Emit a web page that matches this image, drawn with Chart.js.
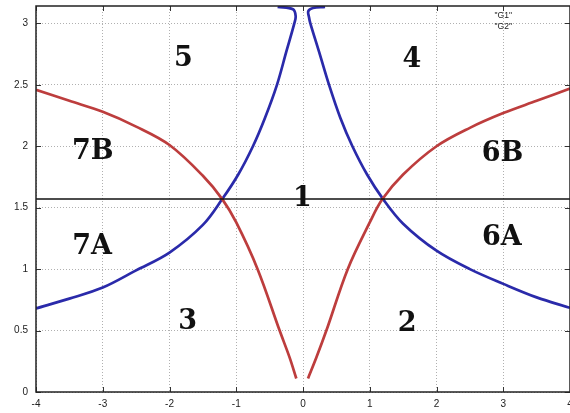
<!DOCTYPE html>
<html>
<head>
<meta charset="utf-8">
<script src="https://cdn.jsdelivr.net/npm/chart.js@4.4.1/dist/chart.umd.min.js"></script>
<style>
  html, body { margin: 0; padding: 0; background: #fff; overflow: hidden; }
  #wrap { width: 574px; height: 413px; position: relative; }
</style>
</head>
<body>
<div id="wrap"><canvas id="c" width="574" height="413"></canvas></div>
<script>
// ---- data ----
const redLeftX  = [-4.0, -3.5, -3.0, -2.5, -2.0, -1.5, -1.21, -1.0, -0.68, -0.35, -0.2, -0.10];
const redLeftY  = [2.46, 2.37, 2.28, 2.16, 2.01, 1.76, 1.57, 1.38, 1.00, 0.50, 0.28, 0.11];
const redRightX = [0.075, 0.2, 0.35, 0.67, 1.0, 1.19, 1.5, 2.0, 2.5, 3.0, 3.5, 4.0];
const redRightY = [0.11, 0.28, 0.50, 1.00, 1.38, 1.57, 1.77, 2.00, 2.15, 2.27, 2.37, 2.47];
const blueLeftX = [-4.0, -3.5, -3.0, -2.5, -2.0, -1.5, -1.21, -0.97, -0.75, -0.57, -0.39, -0.25, -0.13, -0.11, -0.15, -0.38];
const blueLeftY = [0.68, 0.76, 0.85, 0.99, 1.135, 1.36, 1.57, 1.77, 2.00, 2.23, 2.50, 2.77, 3.00, 3.06, 3.115, 3.135];
const blueRightX = [0.33, 0.15, 0.08, 0.09, 0.11, 0.24, 0.39, 0.56, 0.74, 0.96, 1.2, 1.5, 2.0, 2.5, 3.0, 3.5, 4.0];
const blueRightY = [3.135, 3.125, 3.10, 3.05, 3.00, 2.77, 2.50, 2.23, 2.00, 1.77, 1.57, 1.37, 1.15, 1.00, 0.88, 0.77, 0.685];
const boundaryX = [-4, 4];
const boundaryY = [1.5708, 1.5708];
const xTicks = [-4, -3, -2, -1, 0, 1, 2, 3, 4];
const yTicks = [0, 0.5, 1, 1.5, 2, 2.5, 3];
const regionNames = ["5", "4", "7B", "6B", "1", "7A", "6A", "3", "2"];
const regionX = [-1.79, 1.63, -3.15, 2.99, -0.01, -3.16, 2.98, -1.73, 1.56];
const regionY = [2.71, 2.70, 1.95, 1.94, 1.57, 1.18, 1.25, 0.57, 0.55];
const legendNames = ['"G1"', '"G2"'];

function pts(xs, ys) { return xs.map((x, i) => ({ x: x, y: ys[i] })); }

const RED = '#bd3d3d';
const BLUE = '#2a2aaa';

const overlay = {
  id: 'overlay',
  afterDatasetsDraw(chart) {
    const ctx = chart.ctx;
    const xs = chart.scales.x, ys = chart.scales.y;
    const a = chart.chartArea;
    ctx.save();
    // inward tick marks
    ctx.strokeStyle = '#333';
    ctx.lineWidth = 1;
    ctx.beginPath();
    yTicks.forEach(v => {
      const p = Math.round(ys.getPixelForValue(v)) + 0.5;
      ctx.moveTo(a.left, p); ctx.lineTo(a.left + 5, p);
      ctx.moveTo(a.right, p); ctx.lineTo(a.right - 5, p);
    });
    xTicks.forEach(v => {
      const p = Math.round(xs.getPixelForValue(v)) + 0.5;
      ctx.moveTo(p, a.bottom); ctx.lineTo(p, a.bottom - 5);
      ctx.moveTo(p, a.top); ctx.lineTo(p, a.top + 5);
    });
    ctx.stroke();
    // frame
    ctx.strokeStyle = '#222';
    ctx.lineWidth = 1.5;
    ctx.strokeRect(a.left, a.top, a.right - a.left, a.bottom - a.top);
    // region labels
    ctx.fillStyle = '#111';
    ctx.font = 'bold 27px "DejaVu Serif"';
    ctx.textAlign = 'center';
    ctx.textBaseline = 'middle';
    regionNames.forEach((t, i) => {
      ctx.fillText(t, xs.getPixelForValue(regionX[i]), ys.getPixelForValue(regionY[i]));
    });
    // legend texts
    ctx.font = '8.5px "Liberation Sans"';
    ctx.fillStyle = '#222';
    legendNames.forEach((t, i) => {
      ctx.fillText(t, xs.getPixelForValue(3), a.top + 10 + i * 11);
    });
    ctx.restore();
  }
};

new Chart(document.getElementById('c'), {
  type: 'scatter',
  data: {
    datasets: [
      { label: 'boundary', data: pts(boundaryX, boundaryY), showLine: true, borderColor: '#111', borderWidth: 1.6, pointRadius: 0, tension: 0 },
      { label: 'G1', data: pts(redLeftX, redLeftY), showLine: true, borderColor: RED, borderWidth: 2.7, pointRadius: 0, tension: 0.35 },
      { label: 'G1b', data: pts(redRightX, redRightY), showLine: true, borderColor: RED, borderWidth: 2.7, pointRadius: 0, tension: 0.35 },
      { label: 'G2', data: pts(blueLeftX, blueLeftY), showLine: true, borderColor: BLUE, borderWidth: 2.7, pointRadius: 0, tension: 0.35 },
      { label: 'G2b', data: pts(blueRightX, blueRightY), showLine: true, borderColor: BLUE, borderWidth: 2.7, pointRadius: 0, tension: 0.35 }
    ]
  },
  options: {
    responsive: false,
    animation: false,
    devicePixelRatio: 1,
    layout: { padding: { top: 6, right: 4, left: 0, bottom: 0 } },
    plugins: { legend: { display: false }, tooltip: { enabled: false } },
    scales: {
      x: {
        type: 'linear', min: -4, max: 4,
        afterFit(s) { s.height = 21; s.paddingLeft = 0; s.paddingRight = 0; },
        afterBuildTicks(s) { s.ticks = xTicks.map(v => ({ value: v })); },
        grid: { color: '#b0b0b0', lineWidth: 1, drawTicks: false },
        border: { display: false, dash: [1, 2] },
        ticks: { padding: 6, color: '#222', font: { family: 'Liberation Sans', size: 10 }, maxRotation: 0,
                 callback: v => String(v) }
      },
      y: {
        type: 'linear', min: 0, max: 3.14159,
        afterFit(s) { s.width = 36; s.paddingTop = 0; s.paddingBottom = 0; },
        afterBuildTicks(s) { s.ticks = yTicks.map(v => ({ value: v })); },
        grid: { color: '#b0b0b0', lineWidth: 1, drawTicks: false },
        border: { display: false, dash: [1, 2] },
        ticks: { padding: 8, color: '#222', font: { family: 'Liberation Sans', size: 10 },
                 callback: v => String(v) }
      }
    }
  },
  plugins: [overlay]
});
</script>
</body>
</html>
